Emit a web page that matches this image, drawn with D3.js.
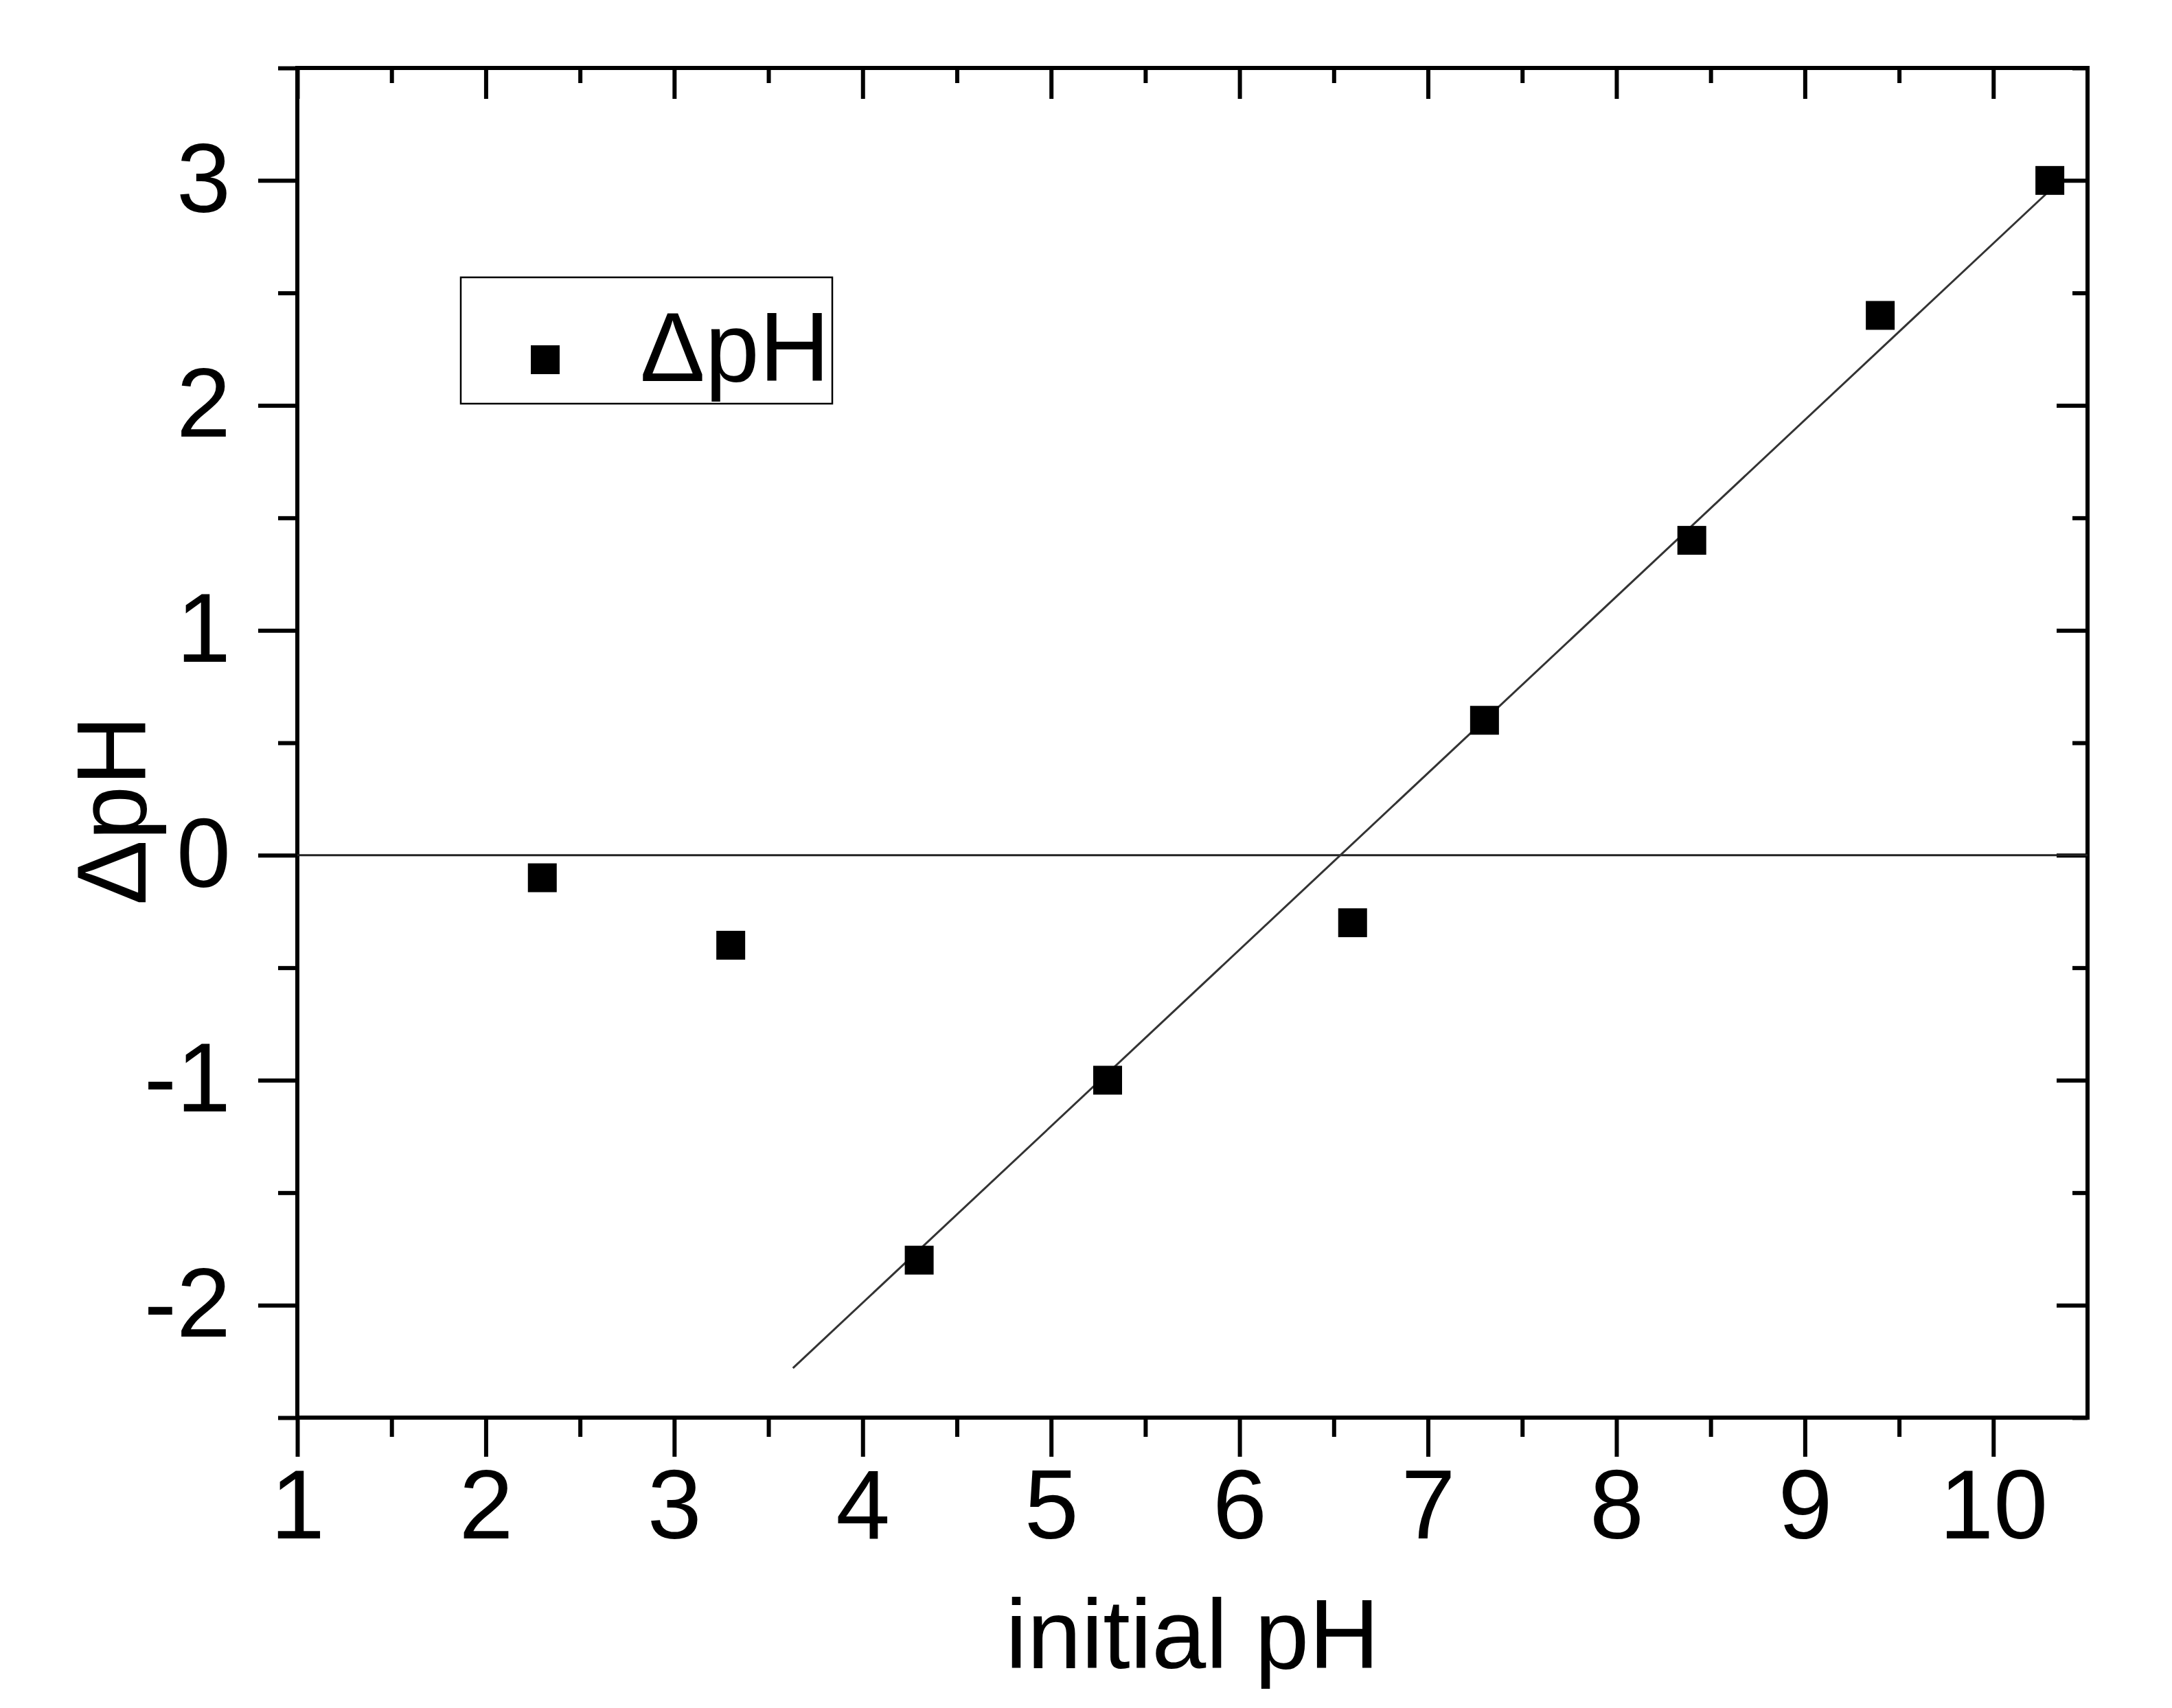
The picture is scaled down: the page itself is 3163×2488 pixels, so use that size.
<!DOCTYPE html>
<html><head><meta charset="utf-8">
<script src="https://cdn.jsdelivr.net/npm/d3@7"></script>
<style>body{margin:0;background:#fff}text{font-family:"Liberation Sans",Arial,sans-serif}</style>
</head><body><svg id="c" width="3163" height="2488"></svg>
<script>
const xValues=[2.3,3.3,4.3,5.3,6.6,7.3,8.4,9.4,10.3];
const yValues=[-0.1,-0.4,-1.8,-1.0,-0.3,0.6,1.4,2.4,3.0];
const fitX=[3.63,10.28];
const fitY=[-2.28,2.94];
const xTicks=[1,2,3,4,5,6,7,8,9,10];
const yTicks=[-2,-1,0,1,2,3];
const seriesName="ΔpH";

const svg=d3.select("#c");
const L=433,R=3040,T=99,B=2065;
const x=d3.scaleLinear().domain([1,10.5]).range([L,R]);
const y=d3.scaleLinear().domain([-2.5,3.5]).range([B,T]);
const minorX=d3.range(1.5,10.5,1), minorY=d3.range(-2.5,3.6,1);
const fs=142;
const fmt=d=>String(d);
function ax(g,axis){g.call(axis);g.select(".domain").remove();g.selectAll("line").attr("stroke","#000").attr("stroke-width",6);}
const gb=svg.append("g").attr("transform",`translate(0,${B})`);
ax(gb,d3.axisBottom(x).tickValues(xTicks).tickSize(57).tickPadding(18).tickFormat(fmt));
gb.selectAll("text").attr("font-size",fs).attr("fill","#000");
ax(svg.append("g").attr("transform",`translate(0,${B})`),d3.axisBottom(x).tickValues(minorX).tickSize(28).tickFormat(""));
const gl=svg.append("g").attr("transform",`translate(${L},0)`);
ax(gl,d3.axisLeft(y).tickValues(yTicks).tickSize(57).tickPadding(40).tickFormat(fmt));
gl.selectAll("text").attr("font-size",fs).attr("fill","#000");
ax(svg.append("g").attr("transform",`translate(${L},0)`),d3.axisLeft(y).tickValues(minorY).tickSize(28).tickFormat(""));
ax(svg.append("g").attr("transform",`translate(0,${T})`),d3.axisBottom(x).tickValues(xTicks).tickSize(45).tickFormat(""));
ax(svg.append("g").attr("transform",`translate(0,${T})`),d3.axisBottom(x).tickValues(minorX).tickSize(22).tickFormat(""));
ax(svg.append("g").attr("transform",`translate(${R},0)`),d3.axisLeft(y).tickValues(yTicks).tickSize(45).tickFormat(""));
ax(svg.append("g").attr("transform",`translate(${R},0)`),d3.axisLeft(y).tickValues(minorY).tickSize(22).tickFormat(""));
svg.append("rect").attr("x",L).attr("y",T).attr("width",R-L).attr("height",B-T).attr("fill","none").attr("stroke","#000").attr("stroke-width",6);
svg.append("line").attr("x1",L).attr("x2",R).attr("y1",y(0)).attr("y2",y(0)).attr("stroke","#222").attr("stroke-width",3);
svg.append("line").attr("x1",x(fitX[0])).attr("y1",y(fitY[0])).attr("x2",x(fitX[1])).attr("y2",y(fitY[1])).attr("stroke","#333").attr("stroke-width",3);
const s=42;
svg.selectAll("rect.pt").data(xValues).join("rect").attr("class","pt")
 .attr("x",(d)=>x(d)-s/2).attr("y",(d,i)=>y(yValues[i])-s/2).attr("width",s).attr("height",s).attr("fill","#000");
svg.append("rect").attr("x",671).attr("y",404).attr("width",541).attr("height",184).attr("fill","#fff").attr("stroke","#000").attr("stroke-width",2.5);
svg.append("rect").attr("x",794-s/2).attr("y",524-s/2).attr("width",s).attr("height",s).attr("fill","#000");
svg.append("text").attr("x",932).attr("y",555).attr("font-size",fs).text(seriesName);
svg.append("text").attr("x",(L+R)/2).attr("y",2430).attr("text-anchor","middle").attr("font-size",fs).text("initial pH");
svg.append("text").attr("transform",`translate(212,${y(0.2)}) rotate(-90)`).attr("text-anchor","middle").attr("font-size",fs).text("ΔpH");
</script></body></html>
